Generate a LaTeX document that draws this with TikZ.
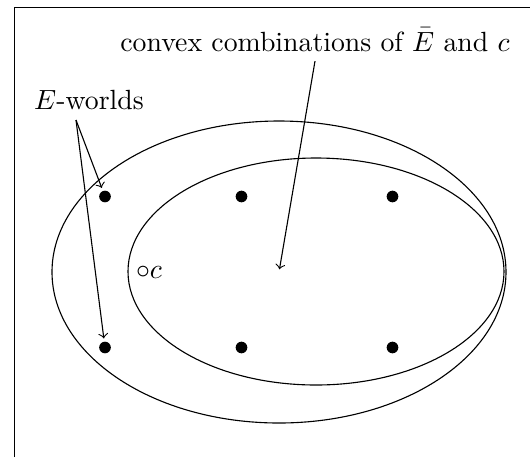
\documentclass[tikz,border=0pt]{standalone}
\usepackage{amsmath,amssymb}
\usetikzlibrary{positioning,calc}
\tikzset{
  world/.style={circle,fill=black,inner sep=0pt,minimum size=4.2pt},
  ptr/.style={draw,->,shorten >=1pt},
  region/.style={draw,line width=0.4pt},
}

\begin{document}
\begin{tikzpicture}[x=0.36pt,y=-0.36pt]
\useasboundingbox (0,0) rectangle (530,457);
\draw (14.5,457) -- (14.5,7.5) -- (530,7.5);
% the two sets
\draw[region] (279,272) ellipse [x radius=81.72pt,y radius=54.36pt];
\draw[region] (316,271.5) ellipse [x radius=67.68pt,y radius=40.86pt];
% worlds
\node[world] (w1) at (105,196.5) {};
\node[world] (w2) at (241.5,196.5) {};
\node[world] (w3) at (392.5,196.5) {};
\node[world] (w4) at (105,347.5) {};
\node[world] (w5) at (241.5,347.5) {};
\node[world] (w6) at (392.5,347.5) {};
\node (cpt) at (149,272) {$\circ c$};
% labels
\node[anchor=base] (combo) at (315,51) {convex combinations of $\bar{E}$ and $c$};
\node[anchor=base] (ew) at (89,109) {$E$-worlds};
\coordinate (mix) at (279,272);
\coordinate (ewfoot) at (76,120);
\draw[ptr] (combo.south) -- (mix);
\draw[ptr] (ewfoot) -- (w1);
\draw[ptr] (ewfoot) -- (w4);
\end{tikzpicture}
\end{document}
